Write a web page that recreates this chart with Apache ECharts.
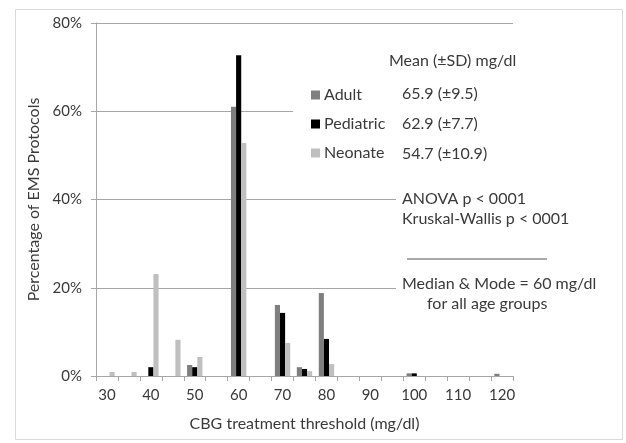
<!DOCTYPE html>
<html><head><meta charset="utf-8">
<script src="https://cdn.jsdelivr.net/npm/echarts@6/dist/echarts.min.js"></script>
<style>html,body{margin:0;padding:0;background:#fff}#c{width:626px;height:443px}</style>
</head><body><div id="c"></div>
<script>
const categories = ['30','35','40','45','50','55','60','65','70','75','80','85','90','95','100','105','110','115','120'];
const adult     = [null,null,null,null,2.5,null,61.0,null,16.1,2.0,18.8,null,null,null,0.6,null,null,null,0.5];
const pediatric = [null,null,2.0,null,2.0,null,72.7,null,14.3,1.6,8.4,null,null,null,0.6,null,null,null,null];
const neonate   = [0.9,0.9,23.1,8.2,4.3,null,52.8,null,7.5,1.1,2.7,null,null,null,null,null,null,null,null];
const yTicks = [0,20,40,60,80];
const seriesNames = ['Adult','Pediatric','Neonate'];
const statsLines = ['65.9 (\u00b19.5)','62.9 (\u00b17.7)','54.7 (\u00b110.9)'];

const FONT = 'Lato';
const TXT = '#3a3a3a';
const chart = echarts.init(document.getElementById('c'), null, {renderer:'canvas'});
const txt = (x,y,s) => ({type:'text', left:x, top:y, z:110, style:{text:s, font:'16px '+FONT, fill:TXT}});
chart.setOption({
  animation:false,
  backgroundColor:'#fff',
  textStyle:{fontFamily:FONT},
  grid:{left:96, right:113, top:23, bottom:67, containLabel:false},
  legend:{
    orient:'vertical', left:306, top:82, itemWidth:9, itemHeight:9, itemGap:13,
    icon:'rect', data:seriesNames, z:120,
    textStyle:{fontSize:16, color:TXT, fontFamily:FONT, padding:[0,0,0,-1]}
  },
  xAxis:{
    type:'category', data:categories, boundaryGap:true,
    name:'CBG treatment threshold (mg/dl)', nameLocation:'middle', nameGap:40,
    nameTextStyle:{fontSize:16, color:TXT, fontFamily:FONT},
    axisLine:{lineStyle:{color:'#a6a6a6'}},
    axisTick:{show:true, interval:0, length:5, lineStyle:{color:'#a6a6a6'}},
    axisLabel:{interval:1, fontSize:15, color:TXT, margin:12, fontFamily:FONT}
  },
  yAxis:{
    type:'value', min:yTicks[0], max:yTicks[yTicks.length-1], interval:20,
    name:'Percentage of EMS Protocols', nameLocation:'middle', nameGap:49,
    nameTextStyle:{fontSize:16, color:TXT, fontFamily:FONT},
    axisLine:{show:true, lineStyle:{color:'#a6a6a6'}},
    axisTick:{show:true, length:5, lineStyle:{color:'#a6a6a6'}},
    axisLabel:{formatter:'{value}%', fontSize:15, color:TXT, margin:14, fontFamily:FONT},
    splitLine:{lineStyle:{color:'#a6a6a6'}}
  },
  series:[
    {name:seriesNames[0], type:'bar', data:adult, barGap:'0%', barCategoryGap:'30%', itemStyle:{color:'#7f7f7f'}},
    {name:seriesNames[1], type:'bar', data:pediatric, barGap:'0%', barCategoryGap:'30%', itemStyle:{color:'#000000'}},
    {name:seriesNames[2], type:'bar', data:neonate, barGap:'0%', barCategoryGap:'30%', itemStyle:{color:'#bfbfbf'}}
  ],
  graphic:[
    {type:'rect', left:13, top:7, z:0, shape:{width:607, height:430}, style:{fill:'none', stroke:'#d9d9d9', lineWidth:1}},
    {type:'rect', left:293, top:72, z:100, shape:{width:222, height:96}, style:{fill:'#fff'}},
    {type:'rect', left:396, top:188, z:100, shape:{width:119, height:44}, style:{fill:'#fff'}},
    {type:'rect', left:396, top:275, z:100, shape:{width:119, height:40}, style:{fill:'#fff'}},
    txt(389,53,'Mean (\u00b1SD) mg/dl'),
    txt(402,86,statsLines[0]),
    txt(402,116,statsLines[1]),
    txt(402,146,statsLines[2]),
    txt(402,191,'ANOVA p < 0001'),
    txt(402,211,'Kruskal-Wallis p < 0001'),
    {type:'line', z:110, shape:{x1:407, y1:259, x2:547, y2:259}, style:{stroke:'#555', lineWidth:1}},
    txt(402,276,'Median & Mode = 60 mg/dl'),
    txt(427,296,'for all age groups')
  ]
});
</script></body></html>
